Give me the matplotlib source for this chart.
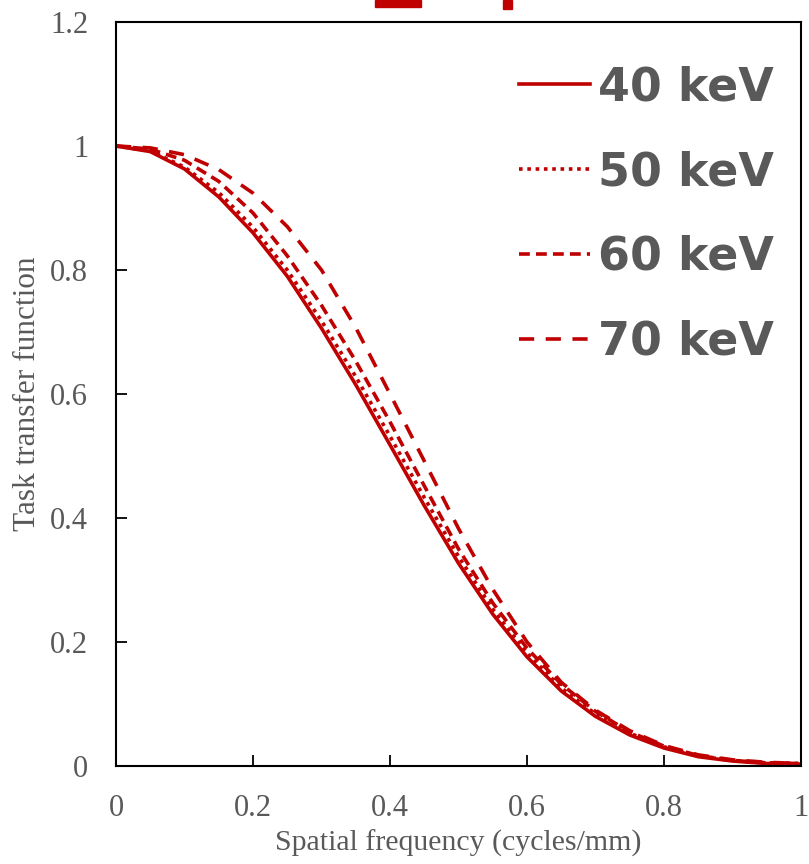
import matplotlib.pyplot as plt
from matplotlib.patches import Rectangle

# spatial frequency (cycles/mm)
freq = [0, 0.05, 0.1, 0.15, 0.2, 0.25, 0.3, 0.35, 0.4, 0.45, 0.5,
        0.55, 0.6, 0.65, 0.7, 0.75, 0.8, 0.85, 0.9, 0.95, 1.0]

ttf40 = [1.0, 0.991, 0.963, 0.918, 0.86, 0.79, 0.706, 0.615, 0.518, 0.42, 0.327,
         0.245, 0.176, 0.121, 0.08, 0.05, 0.029, 0.015, 0.008, 0.004, 0.003]
ttf50 = [1.0, 0.992, 0.966, 0.925, 0.869, 0.80, 0.718, 0.628, 0.532, 0.433, 0.338,
         0.253, 0.182, 0.126, 0.084, 0.053, 0.031, 0.016, 0.009, 0.005, 0.004]
ttf60 = [1.0, 0.995, 0.977, 0.943, 0.892, 0.823, 0.743, 0.653, 0.555, 0.452, 0.35,
         0.263, 0.19, 0.132, 0.088, 0.055, 0.032, 0.017, 0.009, 0.005, 0.004]
ttf70 = [1.0, 0.997, 0.986, 0.962, 0.924, 0.87, 0.80, 0.707, 0.6, 0.492, 0.383,
         0.285, 0.2, 0.135, 0.09, 0.057, 0.033, 0.018, 0.01, 0.006, 0.004]

labels = ["40 keV", "50 keV", "60 keV", "70 keV"]
styles = ["-", (0, (1, 1.3)), (0, (3, 1.7)), (0, (4.2, 3.2))]

red = "#C00000"
grey = "#595959"

fig = plt.figure(figsize=(8.09, 8.64), dpi=100)
ax = fig.add_axes([116/809, 1 - 766/864, 685/809, 744/864])

for y, lab, ls in zip([ttf40, ttf50, ttf60, ttf70], labels, styles):
    ax.plot(freq, y, color=red, lw=2.6, ls=ls, label=lab)

ax.set_xlim(0, 1)
ax.set_ylim(0, 1.2)
ax.set_xticks([0, 0.2, 0.4, 0.6, 0.8, 1])
ax.set_xticklabels(["0", "0.2", "0.4", "0.6", "0.8", "1"])
ax.set_yticks([0, 0.2, 0.4, 0.6, 0.8, 1, 1.2])
ax.set_yticklabels(["0", "0.2", "0.4", "0.6", "0.8", "1", "1.2"])

for s in ax.spines.values():
    s.set_linewidth(1.5)
    s.set_color("black")
ax.tick_params(direction="in", length=8, width=1.3, pad=20,
               labelsize=22, labelcolor=grey)
for t in ax.get_xticklabels() + ax.get_yticklabels():
    t.set_family("Liberation Serif")

ax.set_xlabel("Spatial frequency (cycles/mm)", family="Liberation Serif",
              fontsize=21.5, color=grey, labelpad=5)
ax.set_ylabel("Task transfer function", family="Liberation Serif",
              fontsize=22.5, color=grey, labelpad=6)

ax.legend(loc="upper right", bbox_to_anchor=(0.961, 0.942), frameon=False,
          prop={"family": "DejaVu Sans", "weight": "bold", "size": 33},
          labelcolor=grey, handlelength=1.55, handletextpad=0.18,
          labelspacing=0.87, borderpad=0, borderaxespad=0)

# clipped red marks at the top edge
fig.patches.append(Rectangle((375, 857), 46, 7, transform=None, color=red))
fig.patches.append(Rectangle((503, 855), 9, 9, transform=None, color=red))

fig.savefig("out.png", dpi=100)
